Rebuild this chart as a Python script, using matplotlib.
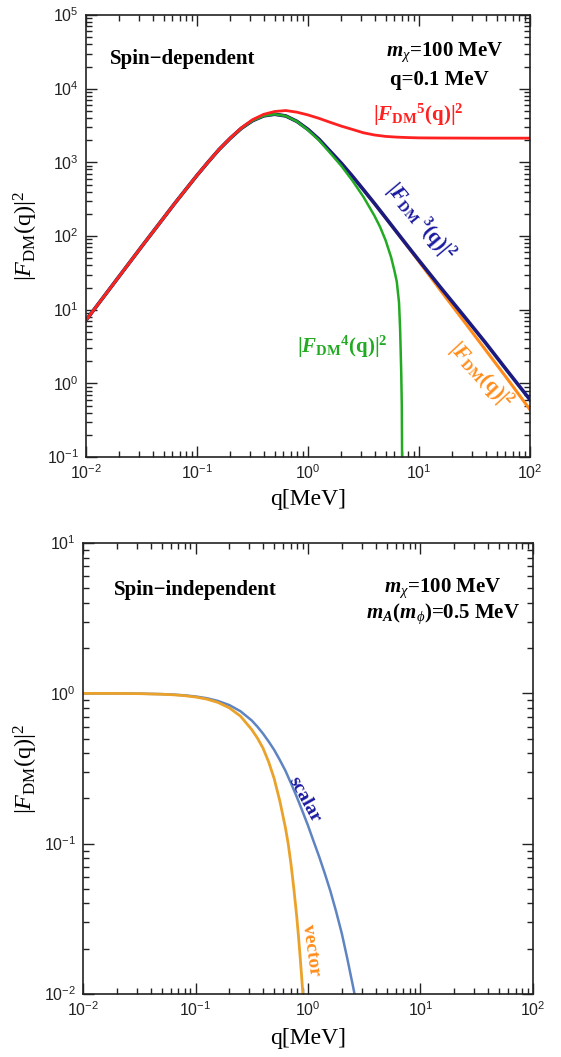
import math

import matplotlib
matplotlib.use("Agg")
import matplotlib.pyplot as plt
from matplotlib.ticker import LogLocator, FuncFormatter, NullFormatter

# Spin-dependent form factors
q_sd = [0.01, 0.0316, 0.0631, 0.1, 0.126, 0.158, 0.2, 0.251, 0.316, 0.398,
        0.501, 0.631, 0.794, 1.0, 1.26, 1.58, 2.0, 2.51, 3.16, 3.98,
        5.01, 6.31, 7.94, 10.0, 15.8, 25.1, 39.8, 63.1, 100.0]
f_sq = [7.2, 71.4, 278, 666, 1009, 1493, 2133, 2897, 3673, 4274,
        4500, 4265, 3600, 2800, 2050, 1420, 970, 650, 425, 275,
        176, 112, 71.5, 45.0, 17.9, 7.13, 2.84, 1.13, 0.44]
f3_sq = [7.2, 71.4, 278, 666, 1009, 1493, 2133, 2897, 3673, 4274,
         4500, 4265, 3600, 2800, 2050, 1420, 970, 650, 425, 276,
         177, 113, 72.5, 46.6, 19.7, 8.4, 3.55, 1.45, 0.6]
f5_sq = [7.2, 71.4, 278, 668, 1012, 1500, 2150, 2940, 3790, 4480,
         4900, 5050, 4800, 4400, 3950, 3500, 3100, 2800, 2520, 2350,
         2250, 2200, 2170, 2150, 2140, 2135, 2130, 2130, 2130]

q_f4 = [0.01, 0.0316, 0.0631, 0.1, 0.126, 0.158, 0.2, 0.251, 0.316, 0.398,
        0.501, 0.631, 0.794, 1.0, 1.26, 1.58, 2.0, 2.51, 3.16, 3.98,
        4.47, 5.01, 5.62, 6.03, 6.31, 6.61, 6.76, 6.92, 7.0, 7.06]
f4_sq = [7.2, 71.4, 278, 666, 1009, 1493, 2133, 2897, 3673, 4274,
         4500, 4265, 3590, 2744, 1985, 1348, 892, 567, 340, 187,
         132, 87, 51, 33, 24, 12.5, 5.5, 1.4, 0.5, 0.05]

# Spin-independent form factors
q_vec = [0.01, 0.02, 0.0316, 0.05, 0.0631, 0.0794, 0.1, 0.126, 0.158, 0.2,
         0.251, 0.316, 0.355, 0.398, 0.447, 0.501, 0.562, 0.631, 0.668, 0.708,
         0.75, 0.794, 0.82, 0.85, 0.875, 0.9, 0.93]
vector = [0.999, 0.998, 0.995, 0.986, 0.978, 0.965, 0.945, 0.915, 0.87, 0.80,
          0.705, 0.574, 0.504, 0.432, 0.35, 0.27, 0.192, 0.127, 0.099, 0.072,
          0.0495, 0.0328, 0.025, 0.018, 0.0135, 0.0101, 0.0068]
q_sca = [0.01, 0.02, 0.0316, 0.05, 0.0631, 0.0794, 0.1, 0.126, 0.158, 0.2,
         0.251, 0.316, 0.355, 0.398, 0.447, 0.501, 0.562, 0.631, 0.708, 0.794,
         0.891, 1.0, 1.12, 1.26, 1.41, 1.58, 1.78, 2.0, 2.24, 2.51, 2.82]
scalar = [0.999, 0.998, 0.995, 0.988, 0.981, 0.97, 0.953, 0.928, 0.89, 0.835,
          0.76, 0.66, 0.60, 0.54, 0.478, 0.42, 0.36, 0.305, 0.251, 0.205,
          0.165, 0.132, 0.104, 0.0815, 0.0634, 0.0485, 0.0353, 0.0252, 0.0171,
          0.0113, 0.0073]

plt.rcParams.update({
    "font.family": "Liberation Serif",
    "mathtext.fontset": "custom",
    "mathtext.rm": "Liberation Serif",
    "mathtext.it": "Liberation Serif:italic",
    "mathtext.bf": "Liberation Serif:bold",
    "mathtext.bfit": "Liberation Serif:italic:bold",
    "mathtext.sf": "Liberation Sans",
})


def sci(v, pos):
    e = int(round(math.log10(v)))
    return r"$\mathsf{10^{%d}}$" % e


def style_axes(ax, ylo, yhi):
    ax.set_xscale("log")
    ax.set_yscale("log")
    ax.set_xlim(1e-2, 1e2)
    ax.set_ylim(ylo, yhi)
    for axis in (ax.xaxis, ax.yaxis):
        axis.set_major_locator(LogLocator(base=10, numticks=20))
        axis.set_minor_locator(LogLocator(base=10, subs=range(2, 10), numticks=20))
        axis.set_major_formatter(FuncFormatter(sci))
        axis.set_minor_formatter(NullFormatter())
    ax.tick_params(which="both", direction="in", top=True, right=True,
                   width=1.0, color="#222222", labelcolor="#222222")
    ax.tick_params(which="major", length=8, labelsize=11.5, pad=5)
    ax.tick_params(which="minor", length=4)
    for s in ax.spines.values():
        s.set_linewidth(1.2)
        s.set_color("#222222")


fig = plt.figure(figsize=(5.61, 10.57), dpi=100)

# top panel: spin-dependent
ax1 = fig.add_axes([0.1533, 0.5676, 0.7914, 0.4182])
style_axes(ax1, 1e-1, 1e5)
ax1.plot(q_sd, f_sq, color="#ff8c1a", lw=2.2)
ax1.plot(q_sd, f3_sq, color="#1a1a80", lw=2.6)
ax1.plot(q_f4, f4_sq, color="#22aa22", lw=1.8)
ax1.plot(q_sd, f5_sq, color="#ff2020", lw=2.0)

ax1.set_xlabel("q[MeV]", fontsize=17)
ax1.set_ylabel(r"$|F_{\mathrm{DM}}(\mathrm{q})|^2$", fontsize=17.5)
ax1.xaxis.set_label_coords(0.5, -0.072)
ax1.yaxis.set_label_coords(-0.104, 0.5)

ax1.text(0.054, 0.90, "Spin\u2212dependent", transform=ax1.transAxes,
         fontsize=15, fontweight="bold", ha="left", va="center")
ax1.text(0.808, 0.916, r"$\mathbfit{m}_{\chi}$=100 MeV", transform=ax1.transAxes,
         fontsize=15, fontweight="bold", ha="center", va="center")
ax1.text(0.797, 0.853, "q=0.1 MeV", transform=ax1.transAxes,
         fontsize=15, fontweight="bold", ha="center", va="center")
ax1.text(0.646, 0.774, r"|${\mathbfit{F}_{\mathbf{DM}}}^{\mathbf{5}}\mathbf{(q)|}^{\mathbf{2}}$",
         transform=ax1.transAxes, fontsize=15, fontweight="bold", color="#ff2020",
         ha="left", va="center")
ax1.text(0.752, 0.532, r"|${\mathbfit{F}_{\mathbf{DM}}}^{\ \mathbf{3}}\mathbf{(q)|}^{\mathbf{2}}$",
         transform=ax1.transAxes, fontsize=15, fontweight="bold", color="#1a1aa0",
         ha="center", va="center", rotation=-50, rotation_mode="anchor")
ax1.text(0.577, 0.249, r"|${\mathbfit{F}_{\mathbf{DM}}}^{\mathbf{4}}\mathbf{(q)|}^{\mathbf{2}}$",
         transform=ax1.transAxes, fontsize=15, fontweight="bold", color="#22aa22",
         ha="center", va="center")
ax1.text(0.890, 0.186, r"|$\mathbfit{F}_{\mathbf{DM}}\mathbf{(q)|}^{\mathbf{2}}$",
         transform=ax1.transAxes, fontsize=15, fontweight="bold", color="#ff8c1a",
         ha="center", va="center", rotation=-47, rotation_mode="anchor")

# bottom panel: spin-independent
ax2 = fig.add_axes([0.148, 0.0596, 0.802, 0.4267])
style_axes(ax2, 1e-2, 1e1)
ax2.plot(q_sca, scalar, color="#5f84c2", lw=1.8)
ax2.plot(q_vec, vector, color="#eba22a", lw=2.0)

ax2.set_xlabel("q[MeV]", fontsize=17)
ax2.set_ylabel(r"$|F_{\mathrm{DM}}(\mathrm{q})|^2$", fontsize=17.5)
ax2.xaxis.set_label_coords(0.5, -0.075)
ax2.yaxis.set_label_coords(-0.096, 0.5)

ax2.text(0.069, 0.896, "Spin\u2212independent", transform=ax2.transAxes,
         fontsize=15, fontweight="bold", ha="left", va="center")
ax2.text(0.80, 0.90, r"$\mathbfit{m}_{\chi}$=100 MeV", transform=ax2.transAxes,
         fontsize=15, fontweight="bold", ha="center", va="center")
ax2.text(0.80, 0.843, r"$\mathbfit{m}_{\mathbfit{A}}\mathbf{(}\mathbfit{m}_{\phi}\mathbf{)}$=0.5 MeV",
         transform=ax2.transAxes, fontsize=15, fontweight="bold", ha="center", va="center")
ax2.text(0.493, 0.432, "scalar", transform=ax2.transAxes, fontsize=14,
         fontweight="bold", color="#1a1aa0", ha="center", va="center",
         rotation=-61, rotation_mode="anchor")
ax2.text(0.507, 0.098, "vector", transform=ax2.transAxes, fontsize=14,
         fontweight="bold", color="#ff8c1a", ha="center", va="center",
         rotation=-82, rotation_mode="anchor")

fig.savefig("out.png", dpi=100)
